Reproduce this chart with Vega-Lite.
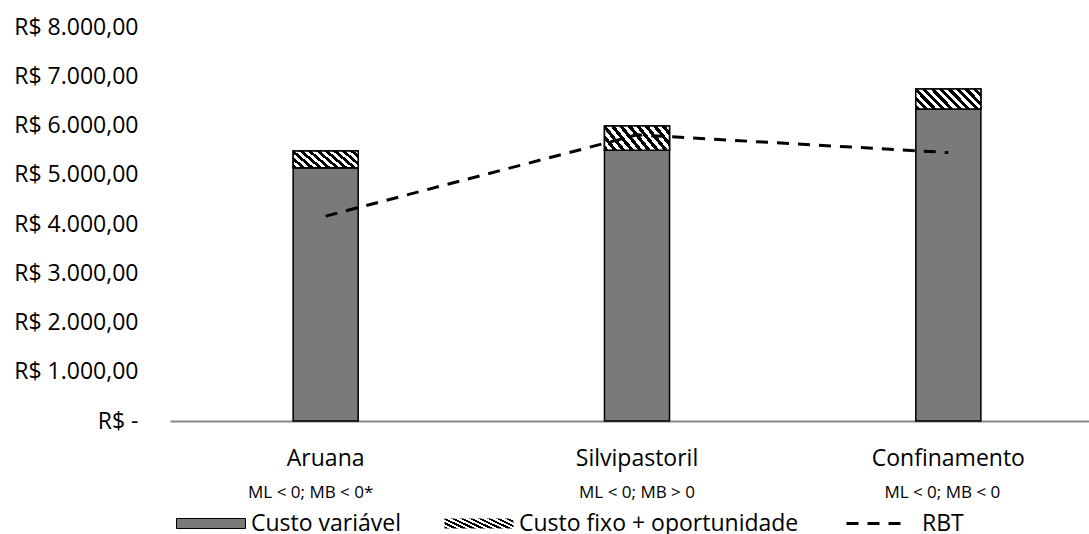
{
  "$schema": "https://vega.github.io/schema/vega-lite/v6.json",
  "width": 919,
  "height": 394,
  "autosize": {"type": "none"},
  "padding": {"left": 170, "top": 27, "right": 0, "bottom": 113},
  "background": "white",
  "config": {"view": {"stroke": null}, "font": "Open Sans", "axis": {"grid": false}},
  "datasets": {
    "custos": [
      {"categoria": "Aruana", "componente": "Custo variável", "valor": 5140},
      {"categoria": "Aruana", "componente": "Custo fixo + oportunidade", "valor": 340},
      {"categoria": "Silvipastoril", "componente": "Custo variável", "valor": 5500},
      {"categoria": "Silvipastoril", "componente": "Custo fixo + oportunidade", "valor": 490},
      {"categoria": "Confinamento", "componente": "Custo variável", "valor": 6335},
      {"categoria": "Confinamento", "componente": "Custo fixo + oportunidade", "valor": 405}
    ],
    "rbt": [
      {"categoria": "Aruana", "rbt": 4160},
      {"categoria": "Silvipastoril", "rbt": 5810},
      {"categoria": "Confinamento", "rbt": 5450}
    ]
  },
  "layer": [
    {
      "data": {"name": "custos"},
      "transform": [
        {"stack": "valor", "groupby": ["categoria"], "sort": [{"field": "componente", "order": "descending"}], "as": ["v0", "v1"]}
      ],
      "mark": {"type": "bar", "stroke": "black", "strokeWidth": 1.5},
      "encoding": {
        "x": {
          "field": "categoria", "type": "nominal",
          "sort": ["Aruana", "Silvipastoril", "Confinamento"],
          "scale": {"type": "band", "range": [0, 934], "paddingInner": 0.791, "paddingOuter": 0.3955},
          "axis": {"title": null, "orient": "bottom", "labelAngle": 0, "ticks": false, "domainColor": "#888888", "domainWidth": 2, "labelFontSize": 23, "labelFont": "Open Sans", "labelColor": "black", "labelPadding": 26, "grid": false}
        },
        "y": {
          "field": "v1", "type": "quantitative",
          "scale": {"domain": [0, 8000], "nice": false},
          "axis": {
            "title": null, "values": [0, 1000, 2000, 3000, 4000, 5000, 6000, 7000, 8000],
            "ticks": false, "domain": false, "grid": false,
            "labelFontSize": 23, "labelFont": "Open Sans", "labelColor": "black", "labelPadding": 32,
            "labelExpr": "datum.value === 0 ? 'R$ -\u00a0\u00a0' : 'R$ ' + replace(replace(replace(format(datum.value, ',.2f'), ',', '#'), '.', ','), '#', '.')"
          }
        },
        "y2": {"field": "v0"},
        "color": {
          "field": "componente", "type": "nominal",
          "scale": {"domain": ["Custo variável", "Custo fixo + oportunidade"], "range": ["#7a7a7a", "#bdbdbd"]},
          "legend": {
            "values": ["Custo variável"],
            "orient": "none", "legendX": 5, "legendY": 485, "direction": "horizontal", "title": null,
            "labelFontSize": 23, "labelFont": "Open Sans", "labelColor": "black", "labelOffset": 53, "padding": 0, "labelLimit": 500,
            "symbolType": "M-1,-0.5H5.9V0.5H-1Z", "symbolSize": 400, "symbolStrokeColor": "black", "symbolStrokeWidth": 1, "symbolOpacity": 1
          }
        }
      }
    },
    {
      "data": {"name": "custos"},
      "transform": [
        {"stack": "valor", "groupby": ["categoria"], "sort": [{"field": "componente", "order": "descending"}], "as": ["v0", "v1"]},
        {"filter": "datum.componente === 'Custo fixo + oportunidade'"}
      ],
      "mark": {
        "type": "bar", "stroke": "black", "strokeWidth": 1.5,
        "fill": {
          "gradient": "linear", "x1": 0, "y1": 1, "x2": 1.193, "y2": 0.642,
          "stops": [
            {"offset": 0, "color": "black"}, {"offset": 0.05, "color": "black"}, {"offset": 0.05, "color": "white"}, {"offset": 0.1, "color": "white"},
            {"offset": 0.1, "color": "black"}, {"offset": 0.15, "color": "black"}, {"offset": 0.15, "color": "white"}, {"offset": 0.2, "color": "white"},
            {"offset": 0.2, "color": "black"}, {"offset": 0.25, "color": "black"}, {"offset": 0.25, "color": "white"}, {"offset": 0.3, "color": "white"},
            {"offset": 0.3, "color": "black"}, {"offset": 0.35, "color": "black"}, {"offset": 0.35, "color": "white"}, {"offset": 0.4, "color": "white"},
            {"offset": 0.4, "color": "black"}, {"offset": 0.45, "color": "black"}, {"offset": 0.45, "color": "white"}, {"offset": 0.5, "color": "white"},
            {"offset": 0.5, "color": "black"}, {"offset": 0.55, "color": "black"}, {"offset": 0.55, "color": "white"}, {"offset": 0.6, "color": "white"},
            {"offset": 0.6, "color": "black"}, {"offset": 0.65, "color": "black"}, {"offset": 0.65, "color": "white"}, {"offset": 0.7, "color": "white"},
            {"offset": 0.7, "color": "black"}, {"offset": 0.75, "color": "black"}, {"offset": 0.75, "color": "white"}, {"offset": 0.8, "color": "white"},
            {"offset": 0.8, "color": "black"}, {"offset": 0.85, "color": "black"}, {"offset": 0.85, "color": "white"}, {"offset": 0.9, "color": "white"},
            {"offset": 0.9, "color": "black"}, {"offset": 0.95, "color": "black"}, {"offset": 0.95, "color": "white"}, {"offset": 1, "color": "white"}
          ]
        }
      },
      "encoding": {
        "x": {"field": "categoria", "type": "nominal", "sort": ["Aruana", "Silvipastoril", "Confinamento"], "axis": null},
        "y": {"field": "v1", "type": "quantitative", "axis": {"title": null}},
        "y2": {"field": "v0"},
        "opacity": {
          "datum": "Custo fixo + oportunidade", "type": "nominal",
          "scale": {"range": [1, 1]},
          "legend": {
            "orient": "none", "legendX": 273, "legendY": 485, "direction": "horizontal", "title": null,
            "labelFontSize": 23, "labelFont": "Open Sans", "labelColor": "black", "labelOffset": 53, "padding": 0, "labelLimit": 500,
            "symbolType": "M-1,-0.5H5.9V0.5H-1Z", "symbolSize": 400, "symbolStrokeColor": "black", "symbolStrokeWidth": 1,
            "symbolFillColor": {
              "gradient": "linear", "x1": 0, "y1": 1, "x2": 1.121, "y2": 0.837,
              "stops": [
                {"offset": 0, "color": "black"}, {"offset": 0.05, "color": "black"}, {"offset": 0.05, "color": "white"}, {"offset": 0.1, "color": "white"},
                {"offset": 0.1, "color": "black"}, {"offset": 0.15, "color": "black"}, {"offset": 0.15, "color": "white"}, {"offset": 0.2, "color": "white"},
                {"offset": 0.2, "color": "black"}, {"offset": 0.25, "color": "black"}, {"offset": 0.25, "color": "white"}, {"offset": 0.3, "color": "white"},
                {"offset": 0.3, "color": "black"}, {"offset": 0.35, "color": "black"}, {"offset": 0.35, "color": "white"}, {"offset": 0.4, "color": "white"},
                {"offset": 0.4, "color": "black"}, {"offset": 0.45, "color": "black"}, {"offset": 0.45, "color": "white"}, {"offset": 0.5, "color": "white"},
                {"offset": 0.5, "color": "black"}, {"offset": 0.55, "color": "black"}, {"offset": 0.55, "color": "white"}, {"offset": 0.6, "color": "white"},
                {"offset": 0.6, "color": "black"}, {"offset": 0.65, "color": "black"}, {"offset": 0.65, "color": "white"}, {"offset": 0.7, "color": "white"},
                {"offset": 0.7, "color": "black"}, {"offset": 0.75, "color": "black"}, {"offset": 0.75, "color": "white"}, {"offset": 0.8, "color": "white"},
                {"offset": 0.8, "color": "black"}, {"offset": 0.85, "color": "black"}, {"offset": 0.85, "color": "white"}, {"offset": 0.9, "color": "white"},
                {"offset": 0.9, "color": "black"}, {"offset": 0.95, "color": "black"}, {"offset": 0.95, "color": "white"}, {"offset": 1, "color": "white"}
              ]
            }
          }
        }
      }
    },
    {
      "data": {"name": "rbt"},
      "mark": {"type": "line", "color": "black", "strokeWidth": 3},
      "encoding": {
        "x": {
          "field": "categoria", "type": "nominal",
          "sort": ["Aruana", "Silvipastoril", "Confinamento"],
          "axis": {
            "title": null, "orient": "bottom", "labelAngle": 0, "ticks": false, "domain": false, "grid": false,
            "labelFontSize": 17, "labelFont": "Open Sans", "labelColor": "black", "labelPadding": 63,
            "labelExpr": "datum.value === 'Aruana' ? 'ML < 0; MB < 0*' : datum.value === 'Silvipastoril' ? 'ML < 0; MB > 0' : 'ML < 0; MB < 0'",
            "labelOffset": {"condition": [{"test": "datum.value === 'Aruana'", "value": -15}, {"test": "datum.value === 'Confinamento'", "value": -6}], "value": 0}
          }
        },
        "y": {"field": "rbt", "type": "quantitative", "axis": {"title": null}},
        "strokeDash": {
          "datum": "RBT", "type": "nominal",
          "scale": {"range": [[12, 9]]},
          "legend": {
            "orient": "none", "legendX": 675, "legendY": 485, "direction": "horizontal", "title": null,
            "labelFontSize": 23, "labelFont": "Open Sans", "labelColor": "black", "labelOffset": 54, "padding": 0, "labelLimit": 500,
            "symbolType": "M-1,0H4.5", "symbolSize": 400, "symbolStrokeColor": "black", "symbolStrokeWidth": 3, "symbolFillColor": "transparent"
          }
        }
      }
    }
  ],
  "resolve": {"axis": {"x": "independent"}}
}
